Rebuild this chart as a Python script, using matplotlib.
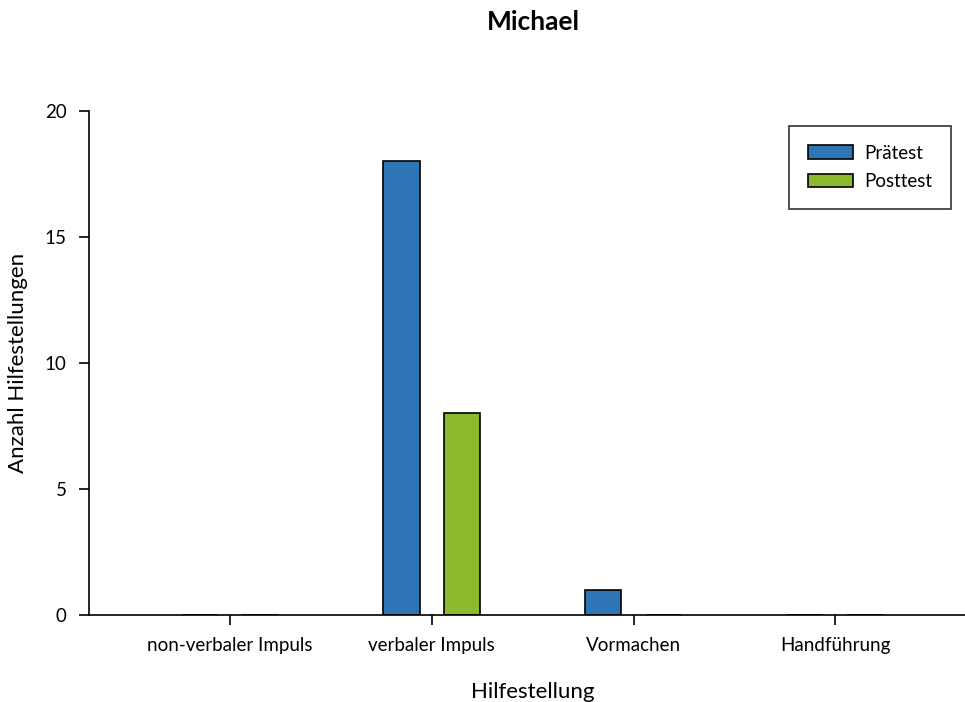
import matplotlib
matplotlib.use("Agg")
import matplotlib.pyplot as plt
import numpy as np

categories = ["non-verbaler Impuls", "verbaler Impuls", "Vormachen", "Handführung"]
pretest = [0, 18, 1, 0]
posttest = [0, 8, 0, 0]
series_names = ["Prätest", "Posttest"]

plt.rcParams["font.family"] = ["Lato", "DejaVu Sans"]

fig = plt.figure(figsize=(9.65, 7.02), dpi=100)
ax = fig.add_axes([0.092, 0.124, 0.92, 0.718])

x = np.arange(len(categories))
width = 0.18
offset = 0.15
ax.bar(x - offset, pretest, width, color="#2E75B6", edgecolor="black", linewidth=1.2,
       label=series_names[0])
ax.bar(x + offset, posttest, width, color="#8DB92E", edgecolor="black", linewidth=1.2,
       label=series_names[1])

ax.set_xlim(-0.70, 3.70)
ax.set_ylim(0, 20)
ax.set_yticks([0, 5, 10, 15, 20])
ax.set_xticks(x)
ax.set_xticklabels(categories)
ax.tick_params(axis="both", direction="out", length=7, width=1.2, labelsize=13.5, pad=9)
for side in ("top", "right"):
    ax.spines[side].set_visible(False)
for side in ("left", "bottom"):
    ax.spines[side].set_linewidth(1.2)

ax.set_xlabel("Hilfestellung", fontsize=16, labelpad=20)
ax.set_ylabel("Anzahl Hilfestellungen", fontsize=16, labelpad=12)
fig.text(0.553, 0.968, "Michael", fontsize=19, fontweight="bold", ha="center", va="center")

leg = ax.legend(loc="upper right", bbox_to_anchor=(0.971, 0.970), frameon=True, fancybox=False,
                edgecolor="black", fontsize=13.5, handlelength=2.4, handleheight=0.75,
                handletextpad=0.6, borderpad=1.0, labelspacing=0.6, borderaxespad=0)
leg.get_frame().set_linewidth(1.2)

fig.savefig("out.png", dpi=100)
